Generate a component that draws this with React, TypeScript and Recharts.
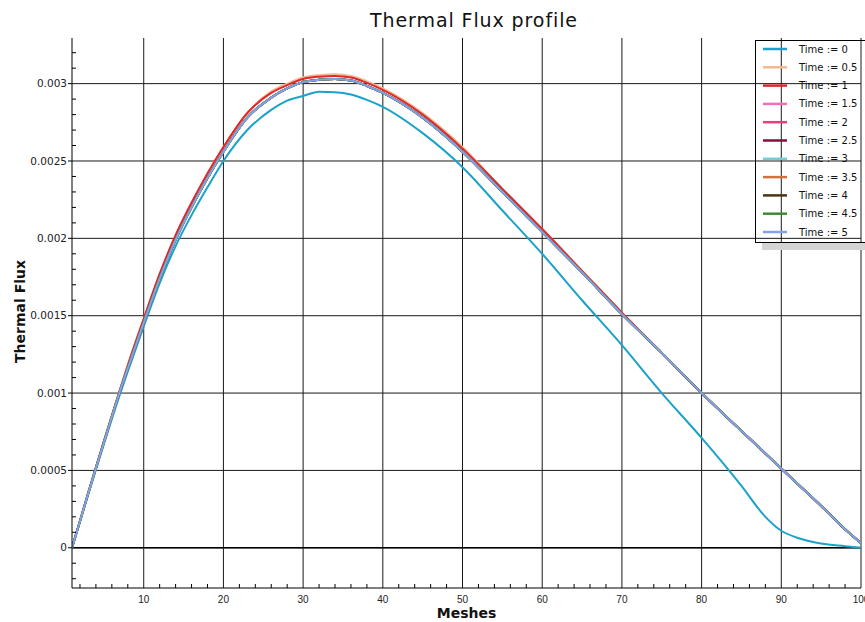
import React from "react";
import { LineChart, Line, XAxis, YAxis, CartesianGrid, Legend, ReferenceLine } from "recharts";

// mesh positions sampled along the profile
const meshes = [1, 2, 3, 4, 5, 7, 8, 10, 12, 14, 16, 18, 20, 23, 26, 28, 30, 32, 34, 36, 38, 40, 45, 50, 55, 60, 65, 70, 75, 80, 85, 88, 90, 92, 95, 98, 100];

// Time := 0
const flux0 = [0, 0.00017, 0.00034, 0.000505, 0.00067, 0.00099, 0.00114, 0.00143, 0.00171, 0.00195, 0.00215, 0.00233, 0.0025, 0.0027, 0.00283, 0.00289, 0.00292, 0.002948, 0.002945, 0.00293, 0.002895, 0.00285, 0.00268, 0.00246, 0.00218, 0.0019, 0.0016, 0.00131, 0.001, 0.00071, 0.0004, 0.0002, 0.00011, 0.000065, 0.000027, 0.00001, 0];

// Time := 0.5
const flux05 = [0, 0.000174, 0.00035, 0.00052, 0.00069, 0.00102, 0.00118, 0.00148, 0.00177, 0.00202, 0.00223, 0.00242, 0.00259, 0.00281, 0.00295, 0.003, 0.00304, 0.003055, 0.00306, 0.00305, 0.003015, 0.00297, 0.00281, 0.00259, 0.00232, 0.00206, 0.00179, 0.00152, 0.00126, 0.001, 0.000755, 0.00061, 0.000512, 0.000415, 0.00027, 0.00012, 0.00003];

// Time := 1
const flux1 = [0, 0.000174, 0.00035, 0.00052, 0.00069, 0.00102, 0.00118, 0.00148, 0.00177, 0.00202, 0.00223, 0.00242, 0.00259, 0.00281, 0.00294, 0.00299, 0.00303, 0.003045, 0.00305, 0.00304, 0.003005, 0.00296, 0.0028, 0.00258, 0.00232, 0.00206, 0.00179, 0.00152, 0.00126, 0.001, 0.000755, 0.00061, 0.000512, 0.000415, 0.00027, 0.00012, 0.00003];

// Time := 1.5 .. 5 (settled profile)
const fluxLate = [0, 0.000172, 0.000345, 0.000515, 0.00068, 0.00101, 0.00116, 0.001455, 0.00174, 0.00199, 0.0022, 0.00239, 0.00256, 0.00278, 0.00291, 0.00297, 0.00301, 0.003025, 0.00303, 0.00302, 0.002985, 0.00294, 0.00278, 0.00256, 0.0023, 0.00204, 0.00178, 0.00151, 0.00126, 0.001, 0.000755, 0.00061, 0.000512, 0.000415, 0.00027, 0.00012, 0.00003];

const times = ["0", "0.5", "1", "1.5", "2", "2.5", "3", "3.5", "4", "4.5", "5"];
const profiles = [flux0, flux05, flux1, fluxLate, fluxLate, fluxLate, fluxLate, fluxLate, fluxLate, fluxLate, fluxLate];
const colors = ["#1ba2c8", "#f2b88e", "#e0282c", "#f070b8", "#e8407f", "#8a0c3c", "#6cd0d4", "#d4703e", "#4b3412", "#3d8b33", "#80a4ea"];

const xMajor = [10, 20, 30, 40, 50, 60, 70, 80, 90, 100];
const yMajor = [0, 0.0005, 0.001, 0.0015, 0.002, 0.0025, 0.003];
const xMinor = Array.from({ length: 50 }, (_, i) => 2 + i * 2);
const yMinor = Array.from({ length: 35 }, (_, i) => (i - 2) / 10000);

const X_DOMAIN = [1, 100];
const Y_DOMAIN = [-0.00026, 0.003295];

const data = meshes.map((mesh, i) => {
  const row: Record<string, number> = { mesh };
  profiles.forEach((p, k) => {
    row[`t${k}`] = p[i];
  });
  return row;
});

const isMajorY = (v: number) => yMajor.some((m) => Math.abs(m - v) < 1e-9);

const tickFont = { fontFamily: "DejaVu Sans", fill: "#222" };

const BottomTick = ({ x, y, payload }: any) => {
  const v = payload.value;
  if (v % 10 === 0) {
    return (
      <text x={x} y={y + 15} textAnchor="middle" fontSize={10} fontFamily="Liberation Sans" fill="#222">
        {v}
      </text>
    );
  }
  return <line x1={x} x2={x} y1={y} y2={y - 4} stroke="#000" />;
};

const TopTick = ({ x, y }: any) => <line x1={x} x2={x} y1={y} y2={y + 4} stroke="#000" />;

const LeftTick = ({ x, y, payload }: any) => {
  const v = payload.value;
  if (isMajorY(v)) {
    return (
      <g>
        <line x1={x - 4} x2={x} y1={y} y2={y} stroke="#000" />
        <text x={x - 5} y={y + 3.7} textAnchor="end" fontSize={10.5} {...tickFont}>
          {Number(v.toFixed(4))}
        </text>
      </g>
    );
  }
  return <line x1={x} x2={x + 4} y1={y} y2={y} stroke="#000" />;
};

const RightTick = ({ x, y }: any) => <line x1={x - 4} x2={x} y1={y} y2={y} stroke="#000" />;

const XTitle = ({ viewBox }: any) => (
  <text
    x={viewBox.x + viewBox.width / 2}
    y={viewBox.y + 30}
    textAnchor="middle"
    fontSize={14}
    fontWeight="bold"
    fontFamily="DejaVu Sans"
    fill="#111"
  >
    Meshes
  </text>
);

const YTitle = ({ viewBox }: any) => {
  const cx = viewBox.x + 25;
  const cy = viewBox.y + viewBox.height / 2 - 1.5;
  return (
    <text
      x={cx}
      y={cy}
      transform={`rotate(-90 ${cx} ${cy})`}
      textAnchor="middle"
      fontSize={14}
      fontWeight="bold"
      fontFamily="DejaVu Sans"
      fill="#111"
    >
      Thermal Flux
    </text>
  );
};

const LegendBox = ({ payload }: any) => (
  <div
    style={{
      width: 130,
      height: 203,
      border: "1px solid #000",
      boxSizing: "border-box",
      boxShadow: "7px 7px 0 #d4d4d4",
    }}
  >
    <svg width={128} height={201} style={{ display: "block" }}>
      {(payload ?? []).map((entry: any, i: number) => {
        const cy = 8 + i * 18.3;
        return (
          <g key={entry.value}>
            <line x1={7} x2={31} y1={cy} y2={cy} stroke={entry.color} strokeWidth={2.5} />
            <text x={43} y={cy + 3.5} fontSize={10} fontFamily="DejaVu Sans" fill="#111">
              {entry.value}
            </text>
          </g>
        );
      })}
    </svg>
  </div>
);

export default function App() {
  return (
    <div style={{ position: "absolute", left: 0, top: 0, width: 865, height: 622, overflow: "hidden", background: "#fff" }}>
      <svg width={865} height={38} style={{ position: "absolute", left: 0, top: 0 }}>
        <text x={474} y={26.7} textAnchor="middle" fontSize={19} letterSpacing={0.9} fontFamily="DejaVu Sans" fill="#111">
          Thermal Flux profile
        </text>
      </svg>
      <LineChart width={865} height={622} data={data} margin={{ top: 38, right: 4, bottom: 0, left: 0 }}>
        <CartesianGrid stroke="#1a1a1a" verticalValues={xMajor} horizontalValues={yMajor} />
        <ReferenceLine y={0} stroke="#000" strokeWidth={1.5} />
        <XAxis
          dataKey="mesh"
          type="number"
          domain={X_DOMAIN}
          allowDataOverflow
          ticks={xMinor}
          interval={0}
          height={34}
          tickSize={0}
          tickMargin={0}
          tickLine={false}
          tick={<BottomTick />}
          axisLine={{ stroke: "#000" }}
          label={XTitle}
        />
        <XAxis
          xAxisId="top"
          orientation="top"
          type="number"
          domain={X_DOMAIN}
          allowDataOverflow
          ticks={xMinor}
          interval={0}
          height={0}
          tickSize={0}
          tickMargin={0}
          tickLine={false}
          tick={<TopTick />}
          axisLine={{ stroke: "#000" }}
        />
        <YAxis
          type="number"
          domain={Y_DOMAIN}
          allowDataOverflow
          ticks={yMinor}
          interval={0}
          width={72}
          tickSize={0}
          tickMargin={0}
          tickLine={false}
          tick={<LeftTick />}
          axisLine={{ stroke: "#000" }}
          label={YTitle}
        />
        <YAxis
          yAxisId="right"
          orientation="right"
          type="number"
          domain={Y_DOMAIN}
          allowDataOverflow
          ticks={yMinor}
          interval={0}
          width={0}
          tickSize={0}
          tickMargin={0}
          tickLine={false}
          tick={<RightTick />}
          axisLine={{ stroke: "#000" }}
        />
        {times.map((t, k) => (
          <Line
            key={t}
            type="monotone"
            dataKey={`t${k}`}
            name={`Time := ${t}`}
            stroke={colors[k]}
            strokeWidth={2}
            dot={false}
            isAnimationActive={false}
          />
        ))}
        <Legend
          layout="vertical"
          align="center"
          verticalAlign="middle"
          content={LegendBox}
          wrapperStyle={{ left: 755, top: 40, width: 130, height: 203 }}
        />
      </LineChart>
    </div>
  );
}
